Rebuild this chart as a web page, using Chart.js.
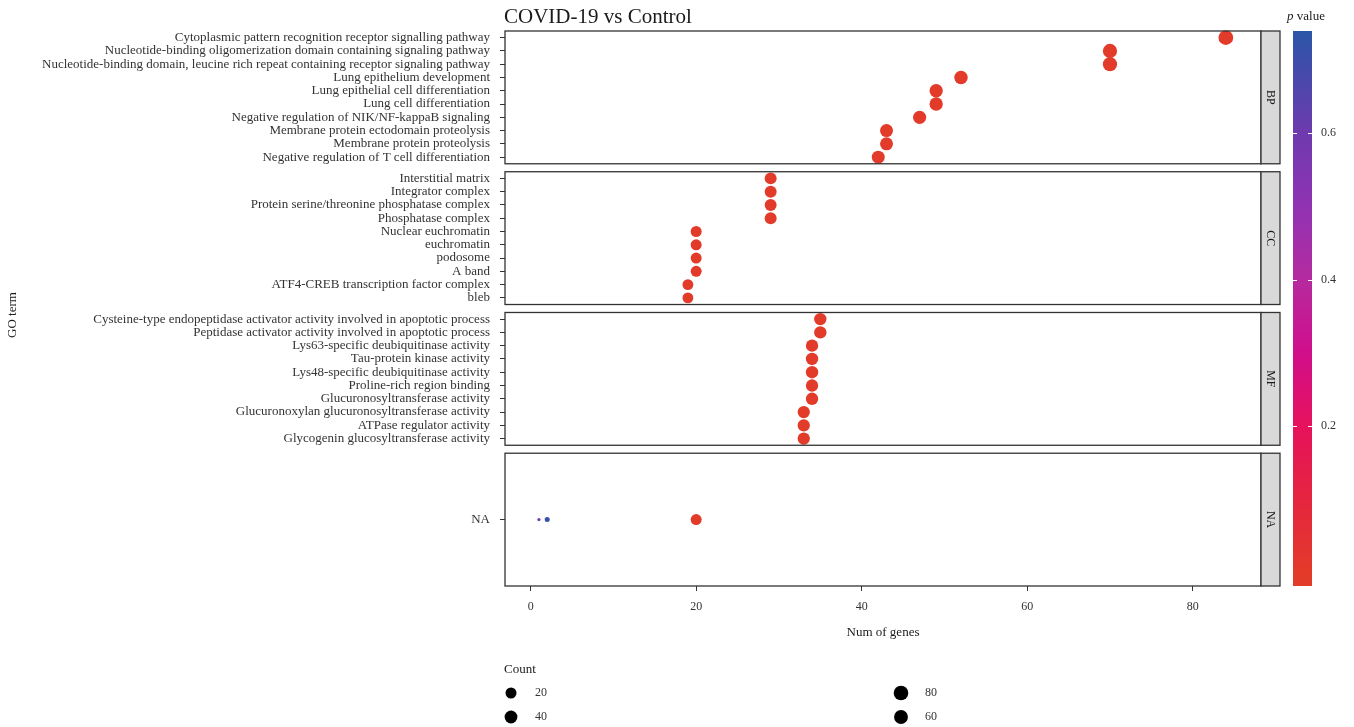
<!DOCTYPE html>
<html>
<head>
<meta charset="utf-8">
<script src="https://cdn.jsdelivr.net/npm/chart.js@4.4.1/dist/chart.umd.min.js"></script>
<style>
  html, body { margin: 0; padding: 0; background: #fff; }
  #wrap { width: 1354px; height: 727px; position: relative; }
</style>
</head>
<body>
<div id="wrap"><canvas id="chart" width="1354" height="727"></canvas></div>
<script>
// --- Data ---
const bpTerms = [
  'Cytoplasmic pattern recognition receptor signalling pathway',
  'Nucleotide-binding oligomerization domain containing signaling pathway',
  'Nucleotide-binding domain, leucine rich repeat containing receptor signaling pathway',
  'Lung epithelium development',
  'Lung epithelial cell differentiation',
  'Lung cell differentiation',
  'Negative regulation of NIK/NF-kappaB signaling',
  'Membrane protein ectodomain proteolysis',
  'Membrane protein proteolysis',
  'Negative regulation of T cell differentiation'
];
const bpGenes = [84, 70, 70, 52, 49, 49, 47, 43, 43, 42];
const bpP     = [0.001, 0.001, 0.001, 0.001, 0.001, 0.001, 0.001, 0.001, 0.001, 0.001];

const ccTerms = [
  'Interstitial matrix',
  'Integrator complex',
  'Protein serine/threonine phosphatase complex',
  'Phosphatase complex',
  'Nuclear euchromatin',
  'euchromatin',
  'podosome',
  'A band',
  'ATF4-CREB transcription factor complex',
  'bleb'
];
const ccGenes = [29, 29, 29, 29, 20, 20, 20, 20, 19, 19];
const ccP     = [0.001, 0.001, 0.001, 0.001, 0.001, 0.001, 0.001, 0.001, 0.001, 0.001];

const mfTerms = [
  'Cysteine-type endopeptidase activator activity involved in apoptotic process',
  'Peptidase activator activity involved in apoptotic process',
  'Lys63-specific deubiquitinase activity',
  'Tau-protein kinase activity',
  'Lys48-specific deubiquitinase activity',
  'Proline-rich region binding',
  'Glucuronosyltransferase activity',
  'Glucuronoxylan glucuronosyltransferase activity',
  'ATPase regulator activity',
  'Glycogenin glucosyltransferase activity'
];
const mfGenes = [35, 35, 34, 34, 34, 34, 34, 33, 33, 33];
const mfP     = [0.001, 0.001, 0.001, 0.001, 0.001, 0.001, 0.001, 0.001, 0.001, 0.001];

const naTerms = ['NA'];
const naRows  = [0, 0, 0];          // all three NA points sit on the single NA row
const naGenes = [1, 2, 20];
const naP     = [0.6, 0.72, 0.001];

const panelNames = ['BP', 'CC', 'MF', 'NA'];
const xTicks = [0, 20, 40, 60, 80];
const pTicks = [0.2, 0.4, 0.6];
const legendCounts = [20, 40, 80, 60];

// colour scale of the p value bar
const pStops  = [0, 0.1, 0.2, 0.3, 0.4, 0.5, 0.6, 0.74];
const pColors = ['#e33b2a', '#e5253f', '#e6125c', '#d10e8b', '#b52a9f', '#9033b3', '#6e3aae', '#2a56a8'];
const pMin = -0.018, pMax = 0.739;

// --- helpers ---
function hexRgb(h) { return [1, 3, 5].map(i => parseInt(h.slice(i, i + 2), 16)); }
function pColor(p) {
  if (p <= pStops[0]) return pColors[0];
  for (let i = 1; i < pStops.length; i++) {
    if (p <= pStops[i]) {
      const t = (p - pStops[i - 1]) / (pStops[i] - pStops[i - 1]);
      const a = hexRgb(pColors[i - 1]), b = hexRgb(pColors[i]);
      return `rgb(${a.map((v, k) => Math.round(v + (b[k] - v) * t)).join(',')})`;
    }
  }
  return pColors[pColors.length - 1];
}
const radius = (n) => 1.6 + 1.3 * Math.log(n);

// panel layout in y units: every panel is 10 units tall, 0.6 gap between
const PANEL = 10, GAP = 0.6;
const panels = [
  { terms: bpTerms, rows: bpGenes.map((_, i) => i), genes: bpGenes, p: bpP },
  { terms: ccTerms, rows: ccGenes.map((_, i) => i), genes: ccGenes, p: ccP },
  { terms: mfTerms, rows: mfGenes.map((_, i) => i), genes: mfGenes, p: mfP },
  { terms: naTerms, rows: naRows, genes: naGenes, p: naP }
];
const yMax = panels.length * PANEL + (panels.length - 1) * GAP;
const rowPos = (k, i) => k * (PANEL + GAP) + (i + 0.5) * PANEL / panels[k].terms.length;

const tickVals = [], tickLabels = [];
panels.forEach((pn, k) => pn.terms.forEach((t, i) => { tickVals.push(rowPos(k, i)); tickLabels.push(t); }));

const points = [];
panels.forEach((pn, k) => pn.genes.forEach((g, j) => {
  points.push({ x: g, y: rowPos(k, pn.rows[j]), p: pn.p[j] });
}));

const SERIF = '"Liberation Serif", "DejaVu Serif", serif';
const INK = '#333';

// --- panel boxes, strips, colour bar, titles and size legend ---
const decor = {
  id: 'decor',
  afterDraw(chart) {
    const { ctx, chartArea: ca, scales } = chart;
    const y = scales.y, pv = scales.pv;
    ctx.save();
    panels.forEach((pn, k) => {
      const top = y.getPixelForValue(k * (PANEL + GAP));
      const bot = y.getPixelForValue(k * (PANEL + GAP) + PANEL);
      ctx.lineWidth = 1.3;
      ctx.strokeStyle = INK;
      ctx.strokeRect(ca.left, top, ca.right - ca.left, bot - top);
      ctx.fillStyle = '#d9d9d9';
      ctx.fillRect(ca.right, top, 19, bot - top);
      ctx.strokeRect(ca.right, top, 19, bot - top);
      ctx.save();
      ctx.translate(ca.right + 9.5, (top + bot) / 2);
      ctx.rotate(Math.PI / 2);
      ctx.fillStyle = '#1a1a1a';
      ctx.font = `12px ${SERIF}`;
      ctx.textAlign = 'center';
      ctx.textBaseline = 'middle';
      ctx.fillText(panelNames[k], 0, 0);
      ctx.restore();
    });

    // colour bar
    const bx = ca.right + 32, bw = 19;
    const bt = pv.getPixelForValue(pMax), bb = pv.getPixelForValue(pMin);
    const grad = ctx.createLinearGradient(0, bb, 0, bt);
    pStops.forEach((s, i) => grad.addColorStop(Math.min(1, (s - pMin) / (pMax - pMin)), pColors[i]));
    ctx.fillStyle = grad;
    ctx.fillRect(bx, bt, bw, bb - bt);
    ctx.strokeStyle = '#fff';
    ctx.lineWidth = 1;
    pTicks.forEach(t => {
      const ty = Math.round(pv.getPixelForValue(t)) + 0.5;
      ctx.beginPath();
      ctx.moveTo(bx, ty); ctx.lineTo(bx + 4, ty);
      ctx.moveTo(bx + bw - 4, ty); ctx.lineTo(bx + bw, ty);
      ctx.stroke();
    });
    ctx.fillStyle = '#1a1a1a';
    ctx.textBaseline = 'middle';
    ctx.textAlign = 'left';
    ctx.font = `italic 13px ${SERIF}`;
    ctx.fillText('p', 1287, 17);
    const pw = ctx.measureText('p ').width;
    ctx.font = `13px ${SERIF}`;
    ctx.fillText('value', 1287 + pw, 17);

    // title
    ctx.font = `21px ${SERIF}`;
    ctx.fillText('COVID-19 vs Control', 504, 17);

    // y axis title
    ctx.save();
    ctx.translate(13, 315);
    ctx.rotate(-Math.PI / 2);
    ctx.textAlign = 'center';
    ctx.font = `13px ${SERIF}`;
    ctx.fillText('GO term', 0, 0);
    ctx.restore();

    // size legend
    ctx.font = `13px ${SERIF}`;
    ctx.fillText('Count', 504, 670);
    legendCounts.forEach((c, i) => {
      const cx = i < 2 ? 511 : 901;
      const cy = i % 2 === 0 ? 693 : 717;
      ctx.fillStyle = '#000';
      ctx.beginPath();
      ctx.arc(cx, cy, radius(c), 0, Math.PI * 2);
      ctx.fill();
      ctx.fillStyle = INK;
      ctx.font = `12px ${SERIF}`;
      ctx.fillText(String(c), cx + 24, cy);
    });
    ctx.restore();
  }
};

new Chart(document.getElementById('chart'), {
  type: 'scatter',
  data: {
    datasets: [{
      data: points,
      clip: false,
      pointRadius: points.map(d => radius(d.x)),
      pointBackgroundColor: points.map(d => pColor(d.p)),
      pointBorderWidth: 0,
      pointBorderColor: 'rgba(0,0,0,0)'
    }]
  },
  options: {
    responsive: false,
    animation: false,
    events: [],
    layout: { padding: { top: 31, bottom: 81, left: 0, right: 0 } },
    plugins: { legend: { display: false }, tooltip: { enabled: false } },
    scales: {
      x: {
        type: 'linear',
        min: -3.1, max: 88.25,
        afterFit: s => { s.height = 60; },
        afterBuildTicks: s => { s.ticks = xTicks.map(v => ({ value: v })); },
        grid: { drawOnChartArea: false, tickLength: 5, color: INK },
        border: { display: false },
        ticks: { padding: 9, color: INK, font: { family: SERIF, size: 12 } },
        title: { display: true, text: 'Num of genes', color: '#1a1a1a',
                 font: { family: SERIF, size: 13 }, padding: { top: 0, bottom: 6 } }
      },
      y: {
        type: 'linear',
        reverse: true,
        min: 0, max: yMax,
        afterFit: s => { s.width = 505; },
        afterBuildTicks: s => { s.ticks = tickVals.map(v => ({ value: v })); },
        grid: { drawOnChartArea: false, tickLength: 5, color: INK },
        border: { display: false },
        ticks: {
          padding: 10, color: INK, autoSkip: false,
          font: { family: SERIF, size: 13 },
          callback: (v, i) => tickLabels[i]
        }
      },
      pv: {
        type: 'linear',
        position: 'right',
        min: pMin, max: pMax,
        afterFit: s => { s.width = 93; },
        afterBuildTicks: s => { s.ticks = pTicks.map(v => ({ value: v })); },
        grid: { display: false, drawTicks: true, tickLength: 56 },
        border: { display: false },
        ticks: { padding: 4, color: INK, font: { family: SERIF, size: 12 },
                 callback: v => v.toFixed(1) }
      }
    }
  },
  plugins: [decor]
});
</script>
</body>
</html>
